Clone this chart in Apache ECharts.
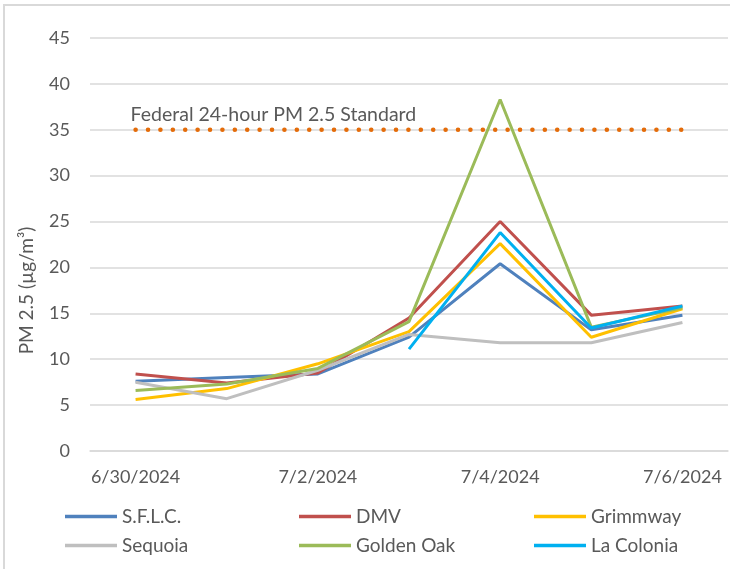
<!DOCTYPE html>
<html>
<head>
	<title>PM 2.5</title>
	<script type="text/javascript" src="https://cdn.jsdelivr.net/npm/echarts@6/dist/echarts.min.js"></script>
	<style>
		body { margin: 0; overflow: hidden; }
		#frame { position: absolute; left: 3px; top: 4px; width: 740px; height: 580px; border: 2px solid #d9d9d9; pointer-events: none; }
	</style>
</head>
<body>
	<div id="mychar" style="width: 730px;height:569px;"></div>
	<div id="frame"></div>

	<script type="text/javascript">
		var days = ['6/30/2024', '7/1/2024', '7/2/2024', '7/3/2024', '7/4/2024', '7/5/2024', '7/6/2024'];
		var sflc = [7.6, 8.0, 8.4, 12.4, 20.4, 13.2, 14.8];
		var dmv = [8.4, 7.4, 8.5, 14.5, 25.0, 14.8, 15.8];
		var grimmway = [5.6, 6.8, 9.5, 13.0, 22.6, 12.4, 15.5];
		var sequoia = [7.5, 5.7, 8.8, 12.7, 11.8, 11.8, 14.0];
		var goldenOak = [6.6, 7.3, 9.0, 14.1, 38.3, 13.5, 15.6];
		var laColonia = [null, null, null, 11.1, 23.8, 13.4, 15.8];
		var standard = [35, 35, 35, 35, 35, 35, 35];
		var standardName = 'Federal 24-hour PM 2.5 Standard';

		var fontName = 'Lato';
		var textColor = '#595959';

		function station(name, data, color) {
			return {
				name: name,
				type: 'line',
				data: data,
				symbol: 'none',
				connectNulls: false,
				lineStyle: { color: color, width: 3 },
				itemStyle: { color: color }
			};
		}

		function legendCol(left, names) {
			return {
				orient: 'vertical',
				left: left,
				top: 507,
				padding: 0,
				itemGap: 10,
				itemWidth: 52,
				itemHeight: 3.5,
				itemTextGap: 5,
				icon: 'rect',
				data: names,
				textStyle: { color: textColor, fontFamily: fontName, fontSize: 19 }
			};
		}

		var mychar = echarts.init(document.getElementById("mychar"));
		var option = {
			animation: false,
			textStyle: { fontFamily: fontName },
			grid: { left: 90, right: 2, top: 38, bottom: 118 },
			legend: [
				legendCol(65, ['S.F.L.C.', 'Sequoia']),
				legendCol(299, ['DMV', 'Golden Oak']),
				legendCol(534, ['Grimmway', 'La Colonia'])
			],
			xAxis: {
				type: 'category',
				data: days,
				boundaryGap: true,
				axisLine: { lineStyle: { color: '#d9d9d9', width: 1.5 } },
				axisTick: { interval: 1, length: 6, lineStyle: { color: '#d9d9d9', width: 1.5 } },
				axisLabel: { interval: 1, color: textColor, fontSize: 18, margin: 17 }
			},
			yAxis: {
				type: 'value',
				min: 0,
				max: 45,
				interval: 5,
				name: 'PM 2.5 (µg/m³)',
				nameLocation: 'middle',
				nameGap: 54,
				nameTextStyle: { color: textColor, fontSize: 19, padding: [0, 92, 0, 0] },
				axisLine: { show: false },
				axisTick: { show: false },
				axisLabel: { color: textColor, fontSize: 18, margin: 20 },
				splitLine: { lineStyle: { color: '#d9d9d9', width: 1.5 } }
			},
			series: [
				station('S.F.L.C.', sflc, '#4F81BD'),
				station('DMV', dmv, '#C0504D'),
				station('Grimmway', grimmway, '#FFC000'),
				station('Sequoia', sequoia, '#BFBFBF'),
				station('Golden Oak', goldenOak, '#9BBB59'),
				station('La Colonia', laColonia, '#00B0F0'),
				{
					name: standardName,
					type: 'line',
					data: standard.map(function (v, i) {
						if (i === 0) {
							return {
								value: v,
								label: {
									show: true,
									position: 'top',
									align: 'left',
									offset: [-5, 0],
									formatter: standardName,
									color: textColor,
									fontSize: 19.5
								}
							};
						}
						return v;
					}),
					symbol: 'circle',
					symbolSize: 0,
					showSymbol: true,
					lineStyle: { color: '#E46C0A', width: 4.5, type: [0.1, 12.3], cap: 'round' },
					itemStyle: { color: '#E46C0A' }
				}
			]
		};

		mychar.setOption(option);
	</script>
</body>
</html>
